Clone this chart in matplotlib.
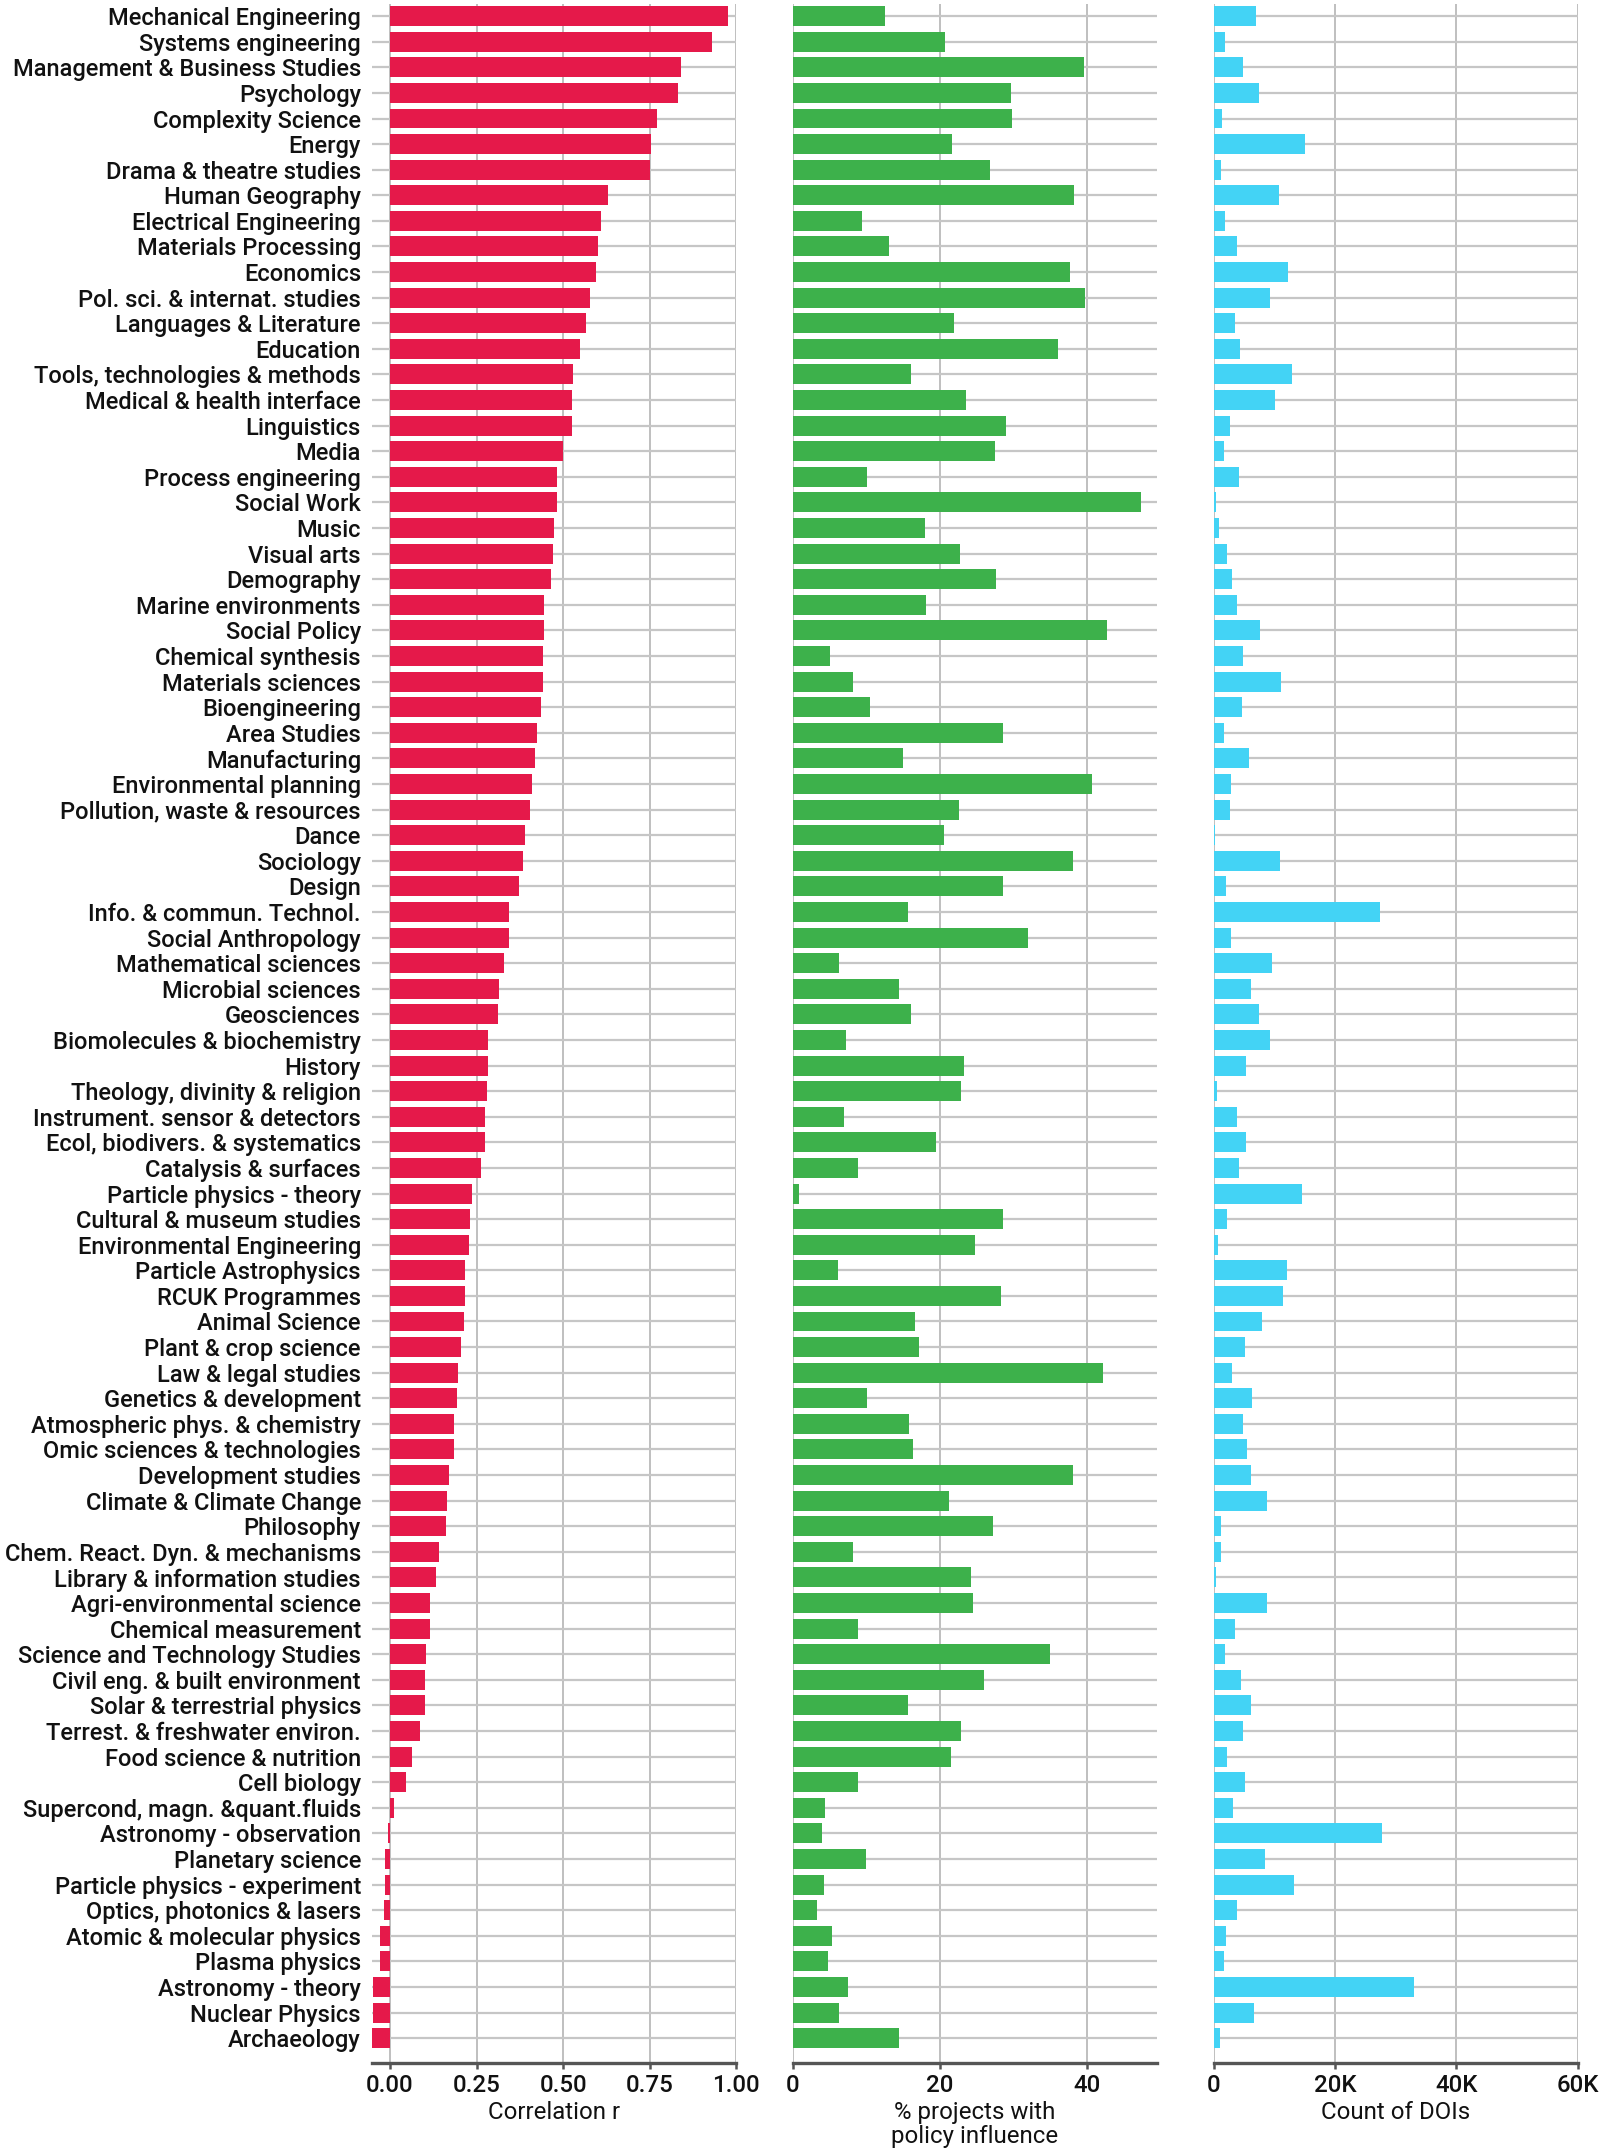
import matplotlib
matplotlib.use("Agg")
import matplotlib.pyplot as plt
from matplotlib.ticker import FuncFormatter

plt.rcParams['font.family'] = ['Roboto', 'DejaVu Sans']
plt.rcParams['font.weight'] = 'medium'

categories = [
    "Mechanical Engineering", "Systems engineering", "Management & Business Studies",
    "Psychology", "Complexity Science", "Energy", "Drama & theatre studies",
    "Human Geography", "Electrical Engineering", "Materials Processing", "Economics",
    "Pol. sci. & internat. studies", "Languages & Literature", "Education",
    "Tools, technologies & methods", "Medical & health interface", "Linguistics",
    "Media", "Process engineering", "Social Work", "Music", "Visual arts",
    "Demography", "Marine environments", "Social Policy", "Chemical synthesis",
    "Materials sciences", "Bioengineering", "Area Studies", "Manufacturing",
    "Environmental planning", "Pollution, waste & resources", "Dance", "Sociology",
    "Design", "Info. & commun. Technol.", "Social Anthropology", "Mathematical sciences",
    "Microbial sciences", "Geosciences", "Biomolecules & biochemistry", "History",
    "Theology, divinity & religion", "Instrument. sensor & detectors",
    "Ecol, biodivers. & systematics", "Catalysis & surfaces", "Particle physics - theory",
    "Cultural & museum studies", "Environmental Engineering", "Particle Astrophysics",
    "RCUK Programmes", "Animal Science", "Plant & crop science", "Law & legal studies",
    "Genetics & development", "Atmospheric phys. & chemistry",
    "Omic sciences & technologies", "Development studies", "Climate & Climate Change",
    "Philosophy", "Chem. React. Dyn. & mechanisms", "Library & information studies",
    "Agri-environmental science", "Chemical measurement",
    "Science and Technology Studies", "Civil eng. & built environment",
    "Solar & terrestrial physics", "Terrest. & freshwater environ.",
    "Food science & nutrition", "Cell biology", "Supercond, magn. &quant.fluids",
    "Astronomy - observation", "Planetary science", "Particle physics - experiment",
    "Optics, photonics & lasers", "Atomic & molecular physics", "Plasma physics",
    "Astronomy - theory", "Nuclear Physics", "Archaeology",
]

# correlation r
corr_r = [
    0.977, 0.930, 0.841, 0.832, 0.770, 0.755, 0.750, 0.630, 0.611, 0.600,
    0.595, 0.577, 0.566, 0.550, 0.530, 0.527, 0.527, 0.500, 0.482, 0.482,
    0.473, 0.470, 0.464, 0.445, 0.445, 0.443, 0.441, 0.436, 0.425, 0.418,
    0.411, 0.405, 0.391, 0.384, 0.373, 0.345, 0.345, 0.330, 0.316, 0.311,
    0.284, 0.284, 0.280, 0.275, 0.275, 0.264, 0.236, 0.230, 0.227, 0.218,
    0.218, 0.214, 0.205, 0.195, 0.193, 0.186, 0.184, 0.170, 0.166, 0.161,
    0.141, 0.132, 0.114, 0.114, 0.105, 0.100, 0.100, 0.086, 0.064, 0.045,
    0.011, -0.005, -0.016, -0.016, -0.018, -0.030, -0.030, -0.048, -0.048, -0.052,
]

# % projects with policy influence
pct_policy = [
    12.5, 20.6, 39.5, 29.6, 29.8, 21.6, 26.8, 38.2, 9.35, 13.0,
    37.7, 39.7, 21.9, 36.0, 16.1, 23.5, 28.9, 27.5, 10.1, 47.3,
    18.0, 22.7, 27.6, 18.1, 42.7, 5.05, 8.2, 10.5, 28.6, 14.9,
    40.6, 22.6, 20.5, 38.1, 28.6, 15.6, 31.9, 6.3, 14.4, 16.1,
    7.2, 23.3, 22.9, 7.0, 19.5, 8.9, 0.75, 28.5, 24.8, 6.1,
    28.3, 16.6, 17.1, 42.2, 10.1, 15.8, 16.3, 38.1, 21.2, 27.2,
    8.2, 24.2, 24.5, 8.8, 34.9, 26.0, 15.6, 22.9, 21.5, 8.8,
    4.4, 4.0, 9.9, 4.2, 3.2, 5.3, 4.7, 7.5, 6.3, 14.4,
]

# count of DOIs
doi_count = [
    7000, 1900, 4800, 7400, 1400, 15100, 1200, 10800, 1800, 3900,
    12300, 9300, 3500, 4300, 12900, 10100, 2700, 1700, 4100, 450,
    900, 2200, 3100, 3900, 7700, 4800, 11100, 4600, 1700, 5900,
    2800, 2700, 250, 11000, 2100, 27500, 2800, 9700, 6200, 7400,
    9300, 5300, 550, 3900, 5400, 4100, 14600, 2200, 800, 12100,
    11500, 8000, 5200, 3000, 6300, 4800, 5500, 6200, 8800, 1200,
    1200, 450, 8800, 3500, 1800, 4500, 6100, 4800, 2200, 5200,
    3200, 27700, 8500, 13200, 3900, 2100, 1700, 33000, 6600, 1000,
]

red = "#E5194A"
green = "#3DB14B"
cyan = "#43D3F5"

fig = plt.figure(figsize=(16.03, 21.53), dpi=100)
bottom, height = 0.0418, 0.9563
ax1 = fig.add_axes([0.2321, bottom, 0.2271, height])
ax2 = fig.add_axes([0.4947, bottom, 0.2271, height])
ax3 = fig.add_axes([0.7571, bottom, 0.2271, height])

ypos = list(range(len(categories)))

panels = [
    (ax1, corr_r, red, (-0.052, 1.0), [0, 0.25, 0.5, 0.75, 1.0], "Correlation r",
     lambda v, p: f"{v:.2f}"),
    (ax2, pct_policy, green, (0, 49.5), [0, 20, 40], "% projects with\npolicy influence",
     lambda v, p: f"{v:.0f}"),
    (ax3, doi_count, cyan, (0, 60000), [0, 20000, 40000, 60000], "Count of DOIs",
     lambda v, p: "0" if v == 0 else f"{v/1000:.0f}K"),
]

fs = 17.3

for ax, vals, col, xlim, ticks, label, fmt in panels:
    ax.barh(ypos, vals, height=0.78, color=col, linewidth=0, zorder=3)
    ax.set_xlim(*xlim)
    ax.set_ylim(len(categories) - 0.03, -0.47)
    ax.set_xticks(ticks)
    ax.xaxis.set_major_formatter(FuncFormatter(fmt))
    ax.set_yticks(ypos)
    ax.set_axisbelow(True)
    ax.xaxis.grid(True, color="#b4b4b4", linewidth=1.2)
    ax.yaxis.grid(True, color="#c6c6c6", linewidth=1.6)
    for s in ["top", "right", "left"]:
        ax.spines[s].set_visible(False)
    ax.spines["bottom"].set_color("#555555")
    ax.spines["bottom"].set_linewidth(2.4)
    ax.tick_params(axis="x", length=4, width=1.8, color="#555555", labelsize=fs,
                   labelcolor="#111111", pad=4)
    ax.tick_params(axis="y", length=0, pad=8)
    ax.set_xlabel(label, fontsize=fs, color="#111111", labelpad=3, linespacing=1.02)

ax1.set_yticklabels(categories, fontsize=17.0, color="#111111")
ax2.set_yticklabels([])
ax3.set_yticklabels([])

fig.savefig("out.png", dpi=100)
